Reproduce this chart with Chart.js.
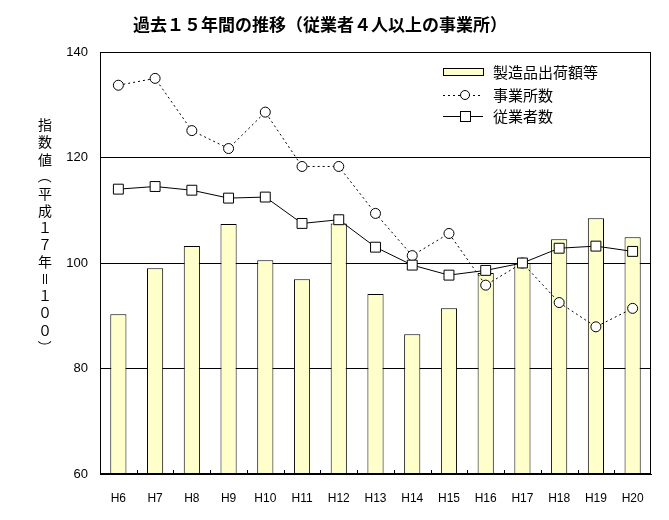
<!DOCTYPE html>
<html><head><meta charset="utf-8">
<script src="https://cdn.jsdelivr.net/npm/chart.js@4/dist/chart.umd.min.js"></script>
<style>html,body{margin:0;padding:0;background:#fff}#wrap{width:669px;height:520px;position:relative}</style>
</head><body><div id="wrap"><canvas id="c" width="669" height="520"></canvas></div>
<script>
const title = '過去１５年間の推移（従業者４人以上の事業所）';
const yTitle = '指数値（平成１７年＝１００）';
const categories = ['H6','H7','H8','H9','H10','H11','H12','H13','H14','H15','H16','H17','H18','H19','H20'];
const seriesNames = ['製造品出荷額等','事業所数','従業者数'];
const shipments = [90.3, 99.0, 103.2, 107.4, 100.5, 96.9, 107.5, 94.1, 86.5, 91.4, 98.1, 100.0, 104.5, 108.5, 104.9];
const establishments = [133.7, 135.0, 125.1, 121.7, 128.6, 118.3, 118.3, 109.4, 101.4, 105.6, 95.8, 100.0, 92.5, 87.9, 91.4];
const employees = [114.0, 114.5, 113.8, 112.3, 112.5, 107.5, 108.2, 103.0, 99.6, 97.7, 98.6, 100.0, 102.8, 103.2, 102.2];
const yTicks = [60, 80, 100, 120, 140];

const JP = "'Noto Sans CJK JP', sans-serif";
const LAT = "'Liberation Sans', 'Noto Sans CJK JP', sans-serif";

const deco = {
  id: 'deco',
  beforeDraw(chart) {
    const ctx = chart.ctx;
    ctx.save();
    ctx.fillStyle = '#fff';
    ctx.fillRect(0, 0, chart.width, chart.height);
    ctx.restore();
  },
  afterDatasetsDraw(chart) {
    const ctx = chart.ctx, a = chart.chartArea;
    ctx.save();
    ctx.strokeStyle = '#000';
    ctx.lineWidth = 1;
    ctx.strokeRect(Math.round(a.left) + 0.5, Math.round(a.top) + 0.5, Math.round(a.right - a.left) - 1, Math.round(a.bottom - a.top) - 1);
    const w = (a.right - a.left) / categories.length;
    ctx.beginPath();
    for (let i = 1; i < categories.length; i++) {
      const x = Math.round(a.left + w * i) + 0.5;
      ctx.moveTo(x, a.bottom);
      ctx.lineTo(x, a.bottom - 4);
    }
    ctx.stroke();
    ctx.restore();
  },
  afterDraw(chart) {
    const ctx = chart.ctx;
    ctx.save();
    ctx.fillStyle = '#000';
    ctx.font = 'bold 17px ' + JP;
    ctx.textAlign = 'left';
    ctx.textBaseline = 'middle';
    ctx.fillText(title, 133, 25);
    ctx.font = '14px ' + JP;
    ctx.textAlign = 'center';
    const chars = Array.from(yTitle);
    chars.forEach((ch, i) => {
      const y = 125 + i * 17.1;
      if ('（）＝'.includes(ch)) {
        ctx.save();
        ctx.translate(45, y);
        ctx.rotate(Math.PI / 2);
        ctx.fillText(ch, 0, 0);
        ctx.restore();
      } else {
        ctx.fillText(ch, 45, y);
      }
    });
    ctx.font = '15px ' + JP;
    ctx.textAlign = 'left';
    const lx0 = 443, lx1 = 483, tx = 493;
    const rows = [72, 95, 116];
    ctx.fillStyle = '#FFFFCC';
    ctx.strokeStyle = '#000';
    ctx.lineWidth = 1;
    ctx.fillRect(lx0 + 0.5, rows[0] - 3.5, lx1 - lx0, 7);
    ctx.strokeRect(lx0 + 0.5, rows[0] - 3.5, lx1 - lx0, 7);
    ctx.fillStyle = '#000';
    ctx.fillText(seriesNames[0], tx, rows[0]);
    ctx.setLineDash([2, 3]);
    ctx.beginPath();
    ctx.moveTo(lx0, rows[1] + 0.5); ctx.lineTo(lx1, rows[1] + 0.5);
    ctx.stroke();
    ctx.setLineDash([]);
    ctx.beginPath();
    ctx.arc(465, rows[1], 4.5, 0, Math.PI * 2);
    ctx.fillStyle = '#fff'; ctx.fill(); ctx.stroke();
    ctx.fillStyle = '#000';
    ctx.fillText(seriesNames[1], tx, rows[1]);
    ctx.beginPath();
    ctx.moveTo(lx0, rows[2] + 0.5); ctx.lineTo(lx1, rows[2] + 0.5);
    ctx.stroke();
    ctx.fillStyle = '#fff';
    ctx.fillRect(460.5, rows[2] - 4.5, 10, 10);
    ctx.strokeRect(460.5, rows[2] - 4.5, 10, 10);
    ctx.fillStyle = '#000';
    ctx.fillText(seriesNames[2], tx, rows[2]);
    ctx.restore();
  }
};

new Chart(document.getElementById('c'), {
  type: 'bar',
  data: {
    labels: categories,
    datasets: [
      {
        type: 'bar', label: seriesNames[0], data: shipments, order: 3,
        backgroundColor: '#FFFFCC', borderColor: '#000', borderWidth: 1,
        barPercentage: 0.44, categoryPercentage: 1.0
      },
      {
        type: 'line', label: seriesNames[1], data: establishments, order: 2,
        borderColor: '#000', borderWidth: 1, borderDash: [2, 3], tension: 0,
        pointStyle: 'circle', pointRadius: 5, pointBackgroundColor: '#fff', pointBorderColor: '#000', pointBorderWidth: 1,
        fill: false
      },
      {
        type: 'line', label: seriesNames[2], data: employees, order: 1,
        borderColor: '#000', borderWidth: 1, tension: 0,
        pointStyle: 'rect', pointRadius: 7, pointBackgroundColor: '#fff', pointBorderColor: '#000', pointBorderWidth: 1,
        fill: false
      }
    ]
  },
  options: {
    responsive: false,
    animation: false,
    devicePixelRatio: 1,
    layout: { padding: { left: 0, right: 18, top: 52, bottom: 0 } },
    plugins: { legend: { display: false }, title: { display: false }, tooltip: { enabled: false } },
    scales: {
      x: {
        offset: true,
        grid: { display: false },
        border: { display: true, color: '#000' },
        ticks: { color: '#000', font: { family: LAT, size: 12 }, padding: 9, maxRotation: 0, autoSkip: false },
        afterFit(s) { s.height = 46; }
      },
      y: {
        min: 60, max: 140,
        afterBuildTicks(s) { s.ticks = yTicks.map(v => ({ value: v })); },
        grid: { color: '#000', lineWidth: 1, drawTicks: false },
        border: { display: true, color: '#000' },
        ticks: { color: '#000', font: { family: LAT, size: 13 }, padding: 12 },
        afterFit(s) { s.width = 100; }
      }
    }
  },
  plugins: [deco]
});
</script></body></html>
